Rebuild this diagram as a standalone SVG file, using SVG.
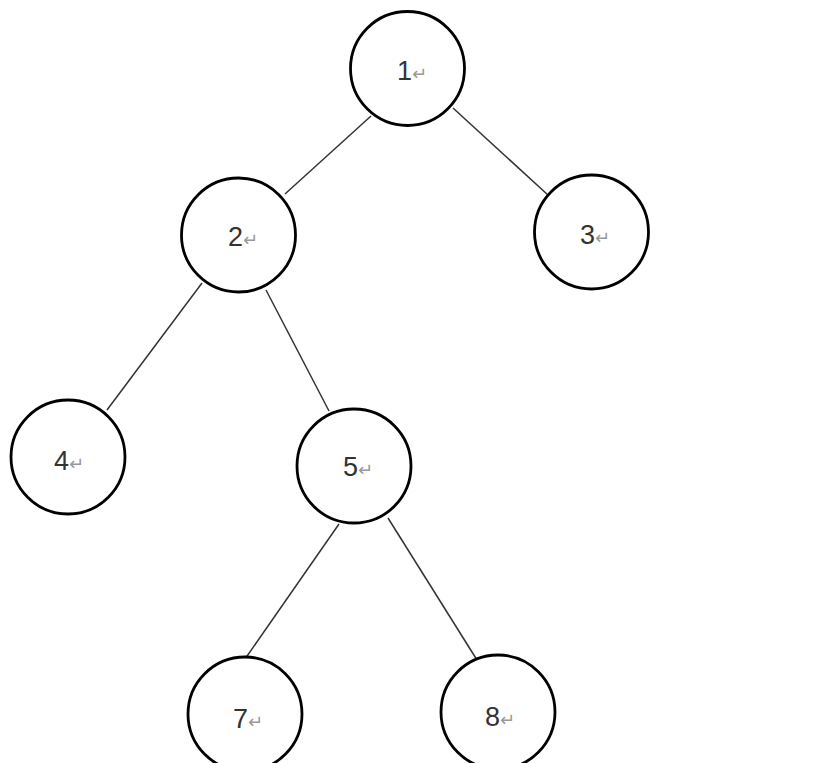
<svg xmlns="http://www.w3.org/2000/svg" width="826" height="763" viewBox="0 0 826 763">
<style>
.n{fill:#fff;stroke:#000;stroke-width:2.8}
.e{stroke:#333;stroke-width:1.5;fill:none}
.t{font-family:"Liberation Sans",Arial,sans-serif;font-size:27px;fill:#333}
.r{font-family:"DejaVu Sans",sans-serif;font-size:18px;fill:#999}
</style>
<rect width="826" height="763" fill="#fff"/>
<g id="edges">
<line class="e" x1="371" y1="116" x2="285" y2="194"/>
<line class="e" x1="453" y1="108" x2="548" y2="195"/>
<line class="e" x1="202" y1="283" x2="107" y2="410"/>
<line class="e" x1="266" y1="290" x2="329" y2="411"/>
<line class="e" x1="339" y1="524" x2="245" y2="659"/>
<line class="e" x1="388" y1="518" x2="477" y2="660"/>
</g>
<g id="n1"><circle class="n" cx="407.5" cy="68.5" r="57"/><text class="t" x="397" y="80">1<tspan class="r">↵</tspan></text></g>
<g id="n2"><circle class="n" cx="238.5" cy="235" r="57"/><text class="t" x="228" y="246">2<tspan class="r">↵</tspan></text></g>
<g id="n3"><circle class="n" cx="591.5" cy="232" r="57"/><text class="t" x="580" y="244">3<tspan class="r">↵</tspan></text></g>
<g id="n4"><circle class="n" cx="68" cy="457" r="57"/><text class="t" x="54" y="470">4<tspan class="r">↵</tspan></text></g>
<g id="n5"><circle class="n" cx="354" cy="466" r="57"/><text class="t" x="343" y="476">5<tspan class="r">↵</tspan></text></g>
<g id="n7"><circle class="n" cx="245" cy="714" r="57"/><text class="t" x="233" y="728">7<tspan class="r">↵</tspan></text></g>
<g id="n8"><circle class="n" cx="498" cy="712" r="57"/><text class="t" x="485" y="726">8<tspan class="r">↵</tspan></text></g>
</svg>
